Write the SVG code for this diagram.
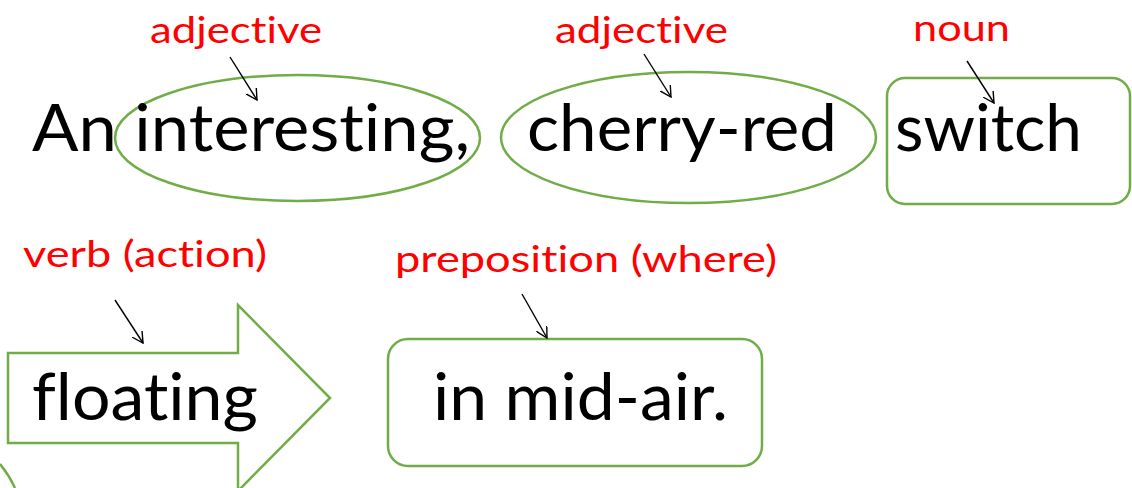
<svg xmlns="http://www.w3.org/2000/svg" width="1132" height="488" viewBox="0 0 1132 488">
<style>
.shape{fill:none;stroke:#70AD47;stroke-width:2.5}
.word{font-family:Lato,"Liberation Sans",sans-serif;font-size:65px;fill:#000;font-variant-ligatures:none}
.label{font-family:Lato,"Liberation Sans",sans-serif;font-size:36px;fill:#FF0000;font-variant-ligatures:none}
.ptr{stroke:#000;stroke-width:1.4;fill:none;marker-end:url(#open)}
</style>
<defs>
<marker id="open" viewBox="0 0 12 12" refX="11" refY="6" markerWidth="12" markerHeight="12" markerUnits="userSpaceOnUse" orient="auto">
<path d="M0,0 L11,6 L0,12" fill="none" stroke="#000" stroke-width="1.4"/>
</marker>
</defs>
<rect width="1132" height="488" fill="#fff"/>
<g id="node-interesting">
<ellipse class="shape" cx="297.5" cy="138" rx="182.5" ry="63"/>
<text class="word" x="32" y="151" textLength="438" lengthAdjust="spacingAndGlyphs">An interesting,</text>
<text class="label" x="150" y="43" textLength="172" lengthAdjust="spacingAndGlyphs">adjective</text>
</g>
<g id="node-cherry-red">
<ellipse class="shape" cx="688.5" cy="137.5" rx="187.5" ry="65.5"/>
<text class="word" x="527" y="151" textLength="310" lengthAdjust="spacingAndGlyphs">cherry-red</text>
<text class="label" x="555" y="43" textLength="173" lengthAdjust="spacingAndGlyphs">adjective</text>
</g>
<g id="node-switch">
<rect class="shape" x="887" y="78" width="243" height="126" rx="18"/>
<text class="word" x="895" y="151" textLength="187" lengthAdjust="spacingAndGlyphs">switch</text>
<text class="label" x="913" y="41" textLength="97" lengthAdjust="spacingAndGlyphs">noun</text>
</g>
<g id="node-floating">
<polygon class="shape" points="8,353 238,353 238,305 330,398 238,491 238,443 8,443"/>
<text class="word" x="32" y="420" textLength="226" lengthAdjust="spacingAndGlyphs">floating</text>
<text class="label" x="23" y="267" textLength="244" lengthAdjust="spacingAndGlyphs">verb (action)</text>
</g>
<g id="node-mid-air">
<rect class="shape" x="388" y="339" width="374" height="127" rx="20"/>
<text class="word" x="433" y="420" textLength="295" lengthAdjust="spacingAndGlyphs">in mid-air.</text>
<text class="label" x="395" y="272" textLength="382" lengthAdjust="spacingAndGlyphs">preposition (where)</text>
</g>
<g id="edge-arc">
<path class="shape" d="M0,464 Q9,475 15,488"/>
</g>
<g id="connectors">
<line class="ptr" x1="230" y1="57" x2="257" y2="100"/>
<line class="ptr" x1="644" y1="54" x2="671" y2="97"/>
<line class="ptr" x1="967" y1="61" x2="994" y2="103"/>
<line class="ptr" x1="115" y1="300" x2="143" y2="343"/>
<line class="ptr" x1="522" y1="294" x2="547" y2="338"/>
</g>
</svg>
